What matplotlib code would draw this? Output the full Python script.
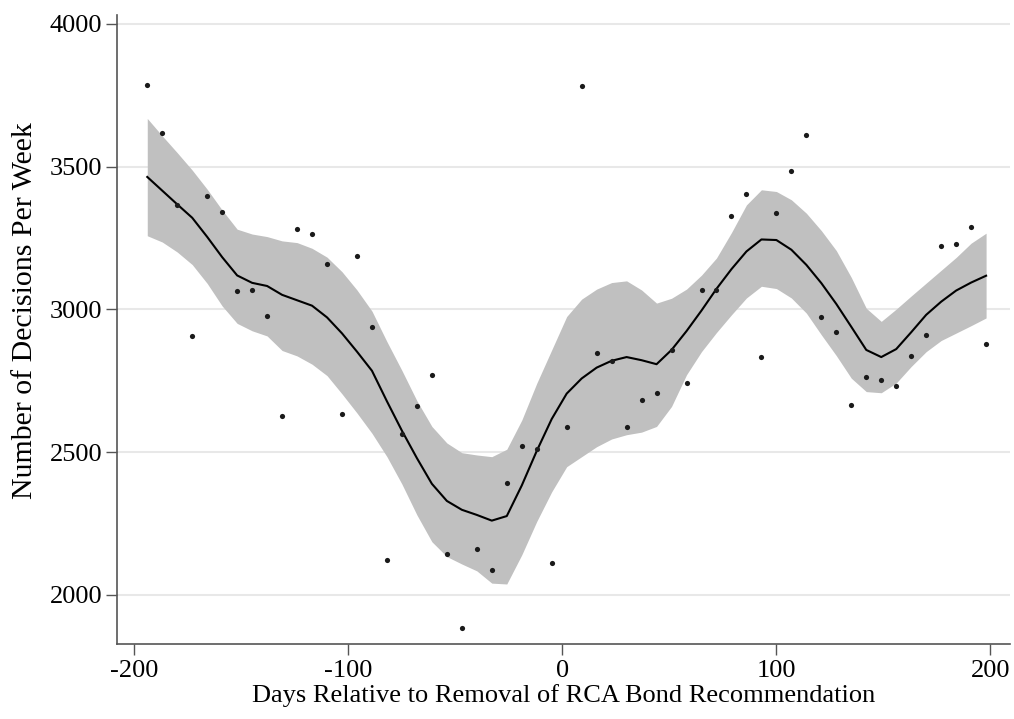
import matplotlib
matplotlib.use("Agg")
import matplotlib.pyplot as plt

plt.rcParams.update({"font.family": ["Liberation Serif", "DejaVu Serif"], "font.size": 19})

# weekly observations (days relative to removal)
days = [-194, -187, -180, -173, -166, -159, -152, -145, -138, -131,
        -124, -117, -110, -103, -96, -89, -82, -75, -68, -61,
        -54, -47, -40, -33, -26, -19, -12, -5, 2, 9,
        16, 23, 30, 37, 44, 51, 58, 65, 72, 79,
        86, 93, 100, 107, 114, 121, 128, 135, 142, 149,
        156, 163, 170, 177, 184, 191, 198]

decisions = [3786, 3618, 3364, 2907, 3399, 3341, 3065, 3067, 2977, 2628,
             3283, 3264, 3159, 2634, 3188, 2937, 2122, 2562, 2662, 2770,
             2142, 1885, 2161, 2086, 2393, 2522, 2512, 2110, 2588, 3781,
             2846, 2820, 2589, 2682, 2706, 2858, 2742, 3069, 3069, 3326,
             3404, 2833, 3339, 3486, 3612, 2974, 2922, 2666, 2763, 2752,
             2731, 2838, 2910, 3223, 3228, 3290, 2880]

# local polynomial fit and 95% CI
fit = [3464, 3416, 3368, 3321, 3254, 3183, 3119, 3093, 3082, 3051,
       3032, 3013, 2972, 2916, 2852, 2785, 2678, 2575, 2479, 2389,
       2329, 2298, 2280, 2260, 2276, 2383, 2504, 2616, 2705, 2758,
       2796, 2820, 2833, 2822, 2808, 2858, 2924, 2996, 3072, 3141,
       3203, 3245, 3243, 3209, 3156, 3092, 3019, 2939, 2858, 2833,
       2861, 2920, 2981, 3027, 3066, 3094, 3118]

ci_hi = [3669, 3608, 3549, 3488, 3421, 3348, 3281, 3264, 3255, 3240,
         3234, 3214, 3183, 3132, 3068, 2994, 2887, 2786, 2680, 2590,
         2532, 2498, 2490, 2484, 2510, 2612, 2741, 2858, 2975, 3036,
         3071, 3094, 3100, 3068, 3022, 3039, 3071, 3120, 3180, 3269,
         3366, 3419, 3413, 3384, 3337, 3276, 3206, 3112, 3004, 2958,
         3001, 3047, 3092, 3137, 3182, 3232, 3267]

ci_lo = [3258, 3236, 3201, 3157, 3091, 3012, 2951, 2925, 2907, 2856,
         2837, 2808, 2768, 2704, 2637, 2566, 2484, 2388, 2280, 2186,
         2134, 2108, 2084, 2041, 2038, 2140, 2257, 2361, 2449, 2484,
         2519, 2546, 2561, 2570, 2590, 2660, 2771, 2852, 2919, 2981,
         3040, 3081, 3073, 3040, 2987, 2911, 2838, 2759, 2712, 2708,
         2742, 2800, 2852, 2891, 2917, 2943, 2970]

xticks = [-200, -100, 0, 100, 200]
yticks = [2000, 2500, 3000, 3500, 4000]

fig = plt.figure(figsize=(10.14, 7.19), dpi=100)
ax = fig.add_axes([0.1157, 0.104, 0.88, 0.875])

ax.fill_between(days, ci_lo, ci_hi, color="#c0c0c0", linewidth=0, zorder=2)
ax.plot(days, fit, color="black", linewidth=1.5, zorder=3)
ax.scatter(days, decisions, s=14, color="#1a1a1a", linewidths=0, zorder=4)

ax.set_xlim(-208, 209)
ax.set_ylim(1827, 4031)
ax.set_xticks(xticks)
ax.set_yticks(yticks)
ax.set_xticklabels([str(t) for t in xticks])
ax.set_yticklabels([str(t) for t in yticks])

ax.grid(axis="y", color="#e8e8e8", linewidth=1.5, zorder=0)
ax.set_axisbelow(True)

for side in ["top", "right"]:
    ax.spines[side].set_visible(False)
for side in ["left", "bottom"]:
    ax.spines[side].set_color("#555555")
    ax.spines[side].set_linewidth(1.2)
ax.tick_params(axis="both", direction="out", length=8, width=1.0,
               color="#555555", labelsize=19, pad=3)

ax.set_xlabel("Days Relative to Removal of RCA Bond Recommendation", fontsize=19, labelpad=2)
ax.set_ylabel("Number of Decisions Per Week", fontsize=21.5)
ax.yaxis.set_label_coords(-0.089, 0.53)

fig.savefig("out.png", dpi=100)
